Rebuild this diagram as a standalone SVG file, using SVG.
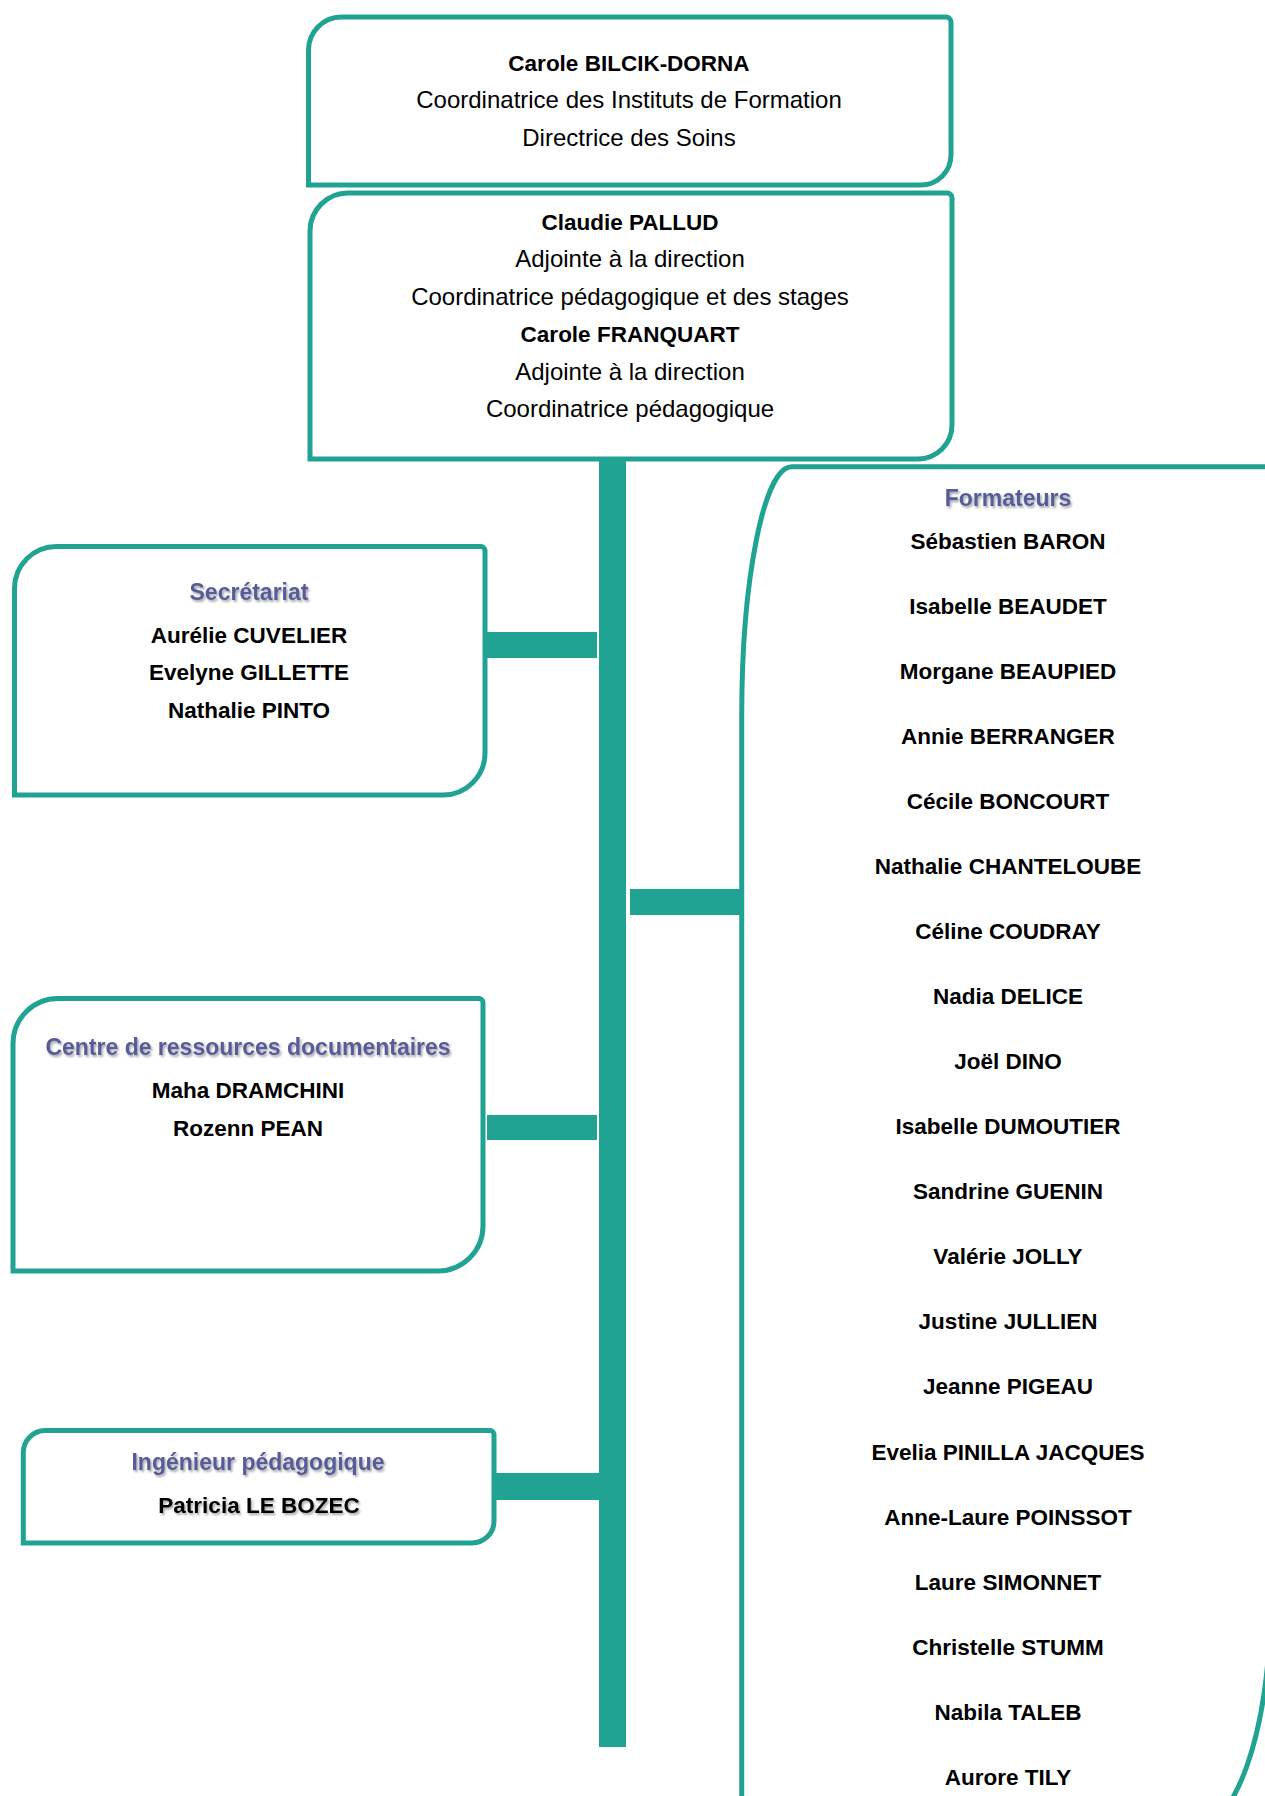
<svg xmlns="http://www.w3.org/2000/svg" width="1265" height="1796" viewBox="0 0 1265 1796">
  <defs>
    <filter id="shadow" x="-10%" y="-30%" width="120%" height="170%">
      <feDropShadow dx="1.5" dy="2" stdDeviation="1.2" flood-color="#000" flood-opacity="0.35"/>
    </filter>
  </defs>
  <style>
    .box { fill: #ffffff; stroke: #21A393; stroke-width: 5; }
    .bar { fill: #21A393; }
    text { font-family: "Liberation Sans", Arial, sans-serif; text-anchor: middle; fill: #000; }
    .reg { font-size: 24px; }
    .name { font-size: 22.5px; font-weight: bold; }
    .head { font-size: 23px; font-weight: bold; fill: #575C98; filter: url(#shadow); }
    .shd { filter: url(#shadow); }
  </style>
  <rect width="1265" height="1796" fill="#ffffff"/>

  <g id="connectors">
    <rect class="bar" x="599" y="459" width="27" height="1288"/>
    <rect class="bar" x="487" y="632" width="110" height="26"/>
    <rect class="bar" x="487" y="1115" width="110" height="25"/>
    <rect class="bar" x="495" y="1473" width="104" height="27"/>
    <rect class="bar" x="630" y="889" width="110" height="26"/>
  </g>

  <g id="direction">
    <path class="box" d="M308.5,50 A33,33 0 0 1 341.5,17 H946 A5,5 0 0 1 951,22 V155 A30,30 0 0 1 921,185 H308.5 Z"/>
    <text class="name" x="629" y="70.7">Carole BILCIK-DORNA</text>
    <text class="reg" x="629" y="108.3">Coordinatrice des Instituts de Formation</text>
    <text class="reg" x="629" y="145.7">Directrice des Soins</text>
  </g>

  <g id="adjointes">
    <path class="box" d="M310,231 A38,38 0 0 1 348,193 H947 A5,5 0 0 1 952,198 V425 A34,34 0 0 1 918,459 H310 Z"/>
    <text class="name" x="630" y="230">Claudie PALLUD</text>
    <text class="reg" x="630" y="267">Adjointe à la direction</text>
    <text class="reg" x="630" y="304.5">Coordinatrice pédagogique et des stages</text>
    <text class="name" x="630" y="342">Carole FRANQUART</text>
    <text class="reg" x="630" y="379.5">Adjointe à la direction</text>
    <text class="reg" x="630" y="417">Coordinatrice pédagogique</text>
  </g>

  <g id="secretariat">
    <path class="box" d="M14.5,588.5 A42,42 0 0 1 56.5,546.5 H481 A4,4 0 0 1 485,550.5 V753 A42,42 0 0 1 443,795 H14.5 Z"/>
    <text class="head" x="249" y="600">Secrétariat</text>
    <text class="name" x="249" y="642.7">Aurélie CUVELIER</text>
    <text class="name" x="249" y="680.2">Evelyne GILLETTE</text>
    <text class="name" x="249" y="717.7">Nathalie PINTO</text>
  </g>

  <g id="crd">
    <path class="box" d="M13,1043.5 A45,45 0 0 1 58,998.5 H479 A4,4 0 0 1 483,1002.5 V1226 A45,45 0 0 1 438,1271 H13 Z"/>
    <text class="head" x="248" y="1055">Centre de ressources documentaires</text>
    <text class="name" x="248" y="1098.3">Maha DRAMCHINI</text>
    <text class="name" x="248" y="1135.8">Rozenn PEAN</text>
  </g>

  <g id="ingenieur">
    <path class="box" d="M23.3,1452.5 A22,22 0 0 1 45.3,1430.5 H490 A4,4 0 0 1 494,1434.5 V1521 A22,22 0 0 1 472,1543 H23.3 Z"/>
    <text class="head" x="258" y="1470">Ingénieur pédagogique</text>
    <text class="name shd" x="259" y="1513.3">Patricia LE BOZEC</text>
  </g>

  <g id="formateurs">
    <path class="box" d="M741.7,716.7 A50,250 0 0 1 791.7,466.7 H1270 V1610 A80,222 0 0 1 1190,1832 H741.7 Z"/>
    <text class="head" x="1008" y="506">Formateurs</text>
    <text class="name" x="1008" y="548.5">Sébastien BARON</text>
    <text class="name" x="1008" y="613.6">Isabelle BEAUDET</text>
    <text class="name" x="1008" y="678.6">Morgane BEAUPIED</text>
    <text class="name" x="1008" y="743.7">Annie BERRANGER</text>
    <text class="name" x="1008" y="808.8">Cécile BONCOURT</text>
    <text class="name" x="1008" y="873.9">Nathalie CHANTELOUBE</text>
    <text class="name" x="1008" y="938.9">Céline COUDRAY</text>
    <text class="name" x="1008" y="1004">Nadia DELICE</text>
    <text class="name" x="1008" y="1069.1">Joël DINO</text>
    <text class="name" x="1008" y="1134.1">Isabelle DUMOUTIER</text>
    <text class="name" x="1008" y="1199.2">Sandrine GUENIN</text>
    <text class="name" x="1008" y="1264.3">Valérie JOLLY</text>
    <text class="name" x="1008" y="1329.3">Justine JULLIEN</text>
    <text class="name" x="1008" y="1394.4">Jeanne PIGEAU</text>
    <text class="name" x="1008" y="1459.5">Evelia PINILLA JACQUES</text>
    <text class="name" x="1008" y="1524.6">Anne-Laure POINSSOT</text>
    <text class="name" x="1008" y="1589.6">Laure SIMONNET</text>
    <text class="name" x="1008" y="1654.7">Christelle STUMM</text>
    <text class="name" x="1008" y="1719.8">Nabila TALEB</text>
    <text class="name" x="1008" y="1784.8">Aurore TILY</text>
  </g>
</svg>
